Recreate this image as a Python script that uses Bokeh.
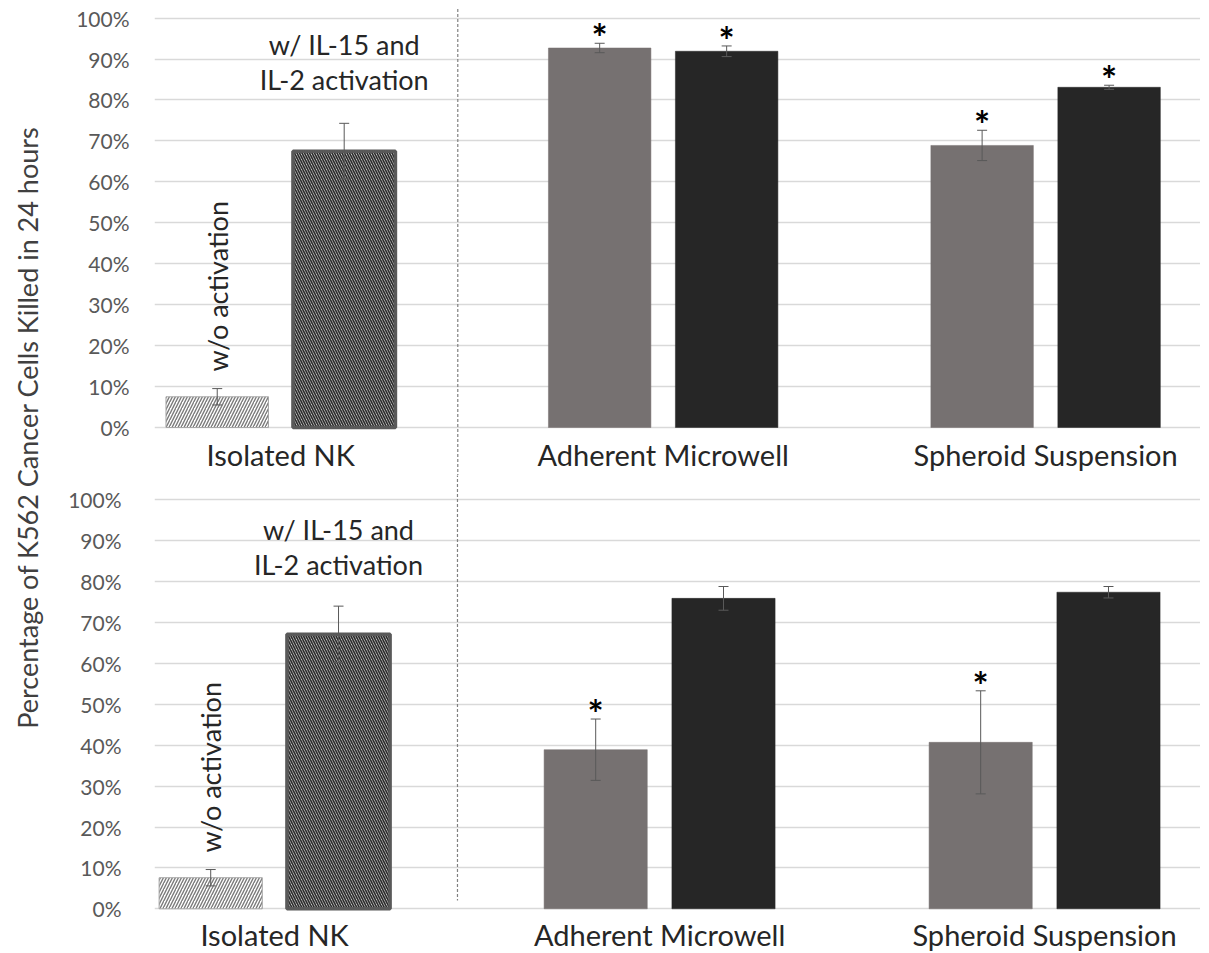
import numpy as np
from bokeh.plotting import figure
from bokeh.layouts import row, column
from bokeh.models import (ColumnDataSource, Whisker, TeeHead, FixedTicker,
                          Range1d, PrintfTickFormatter, CDSView, IndexFilter)
from bokeh.core.properties import value
from bokeh.embed import file_html
from bokeh.resources import INLINE

# ---------------- data ----------------
categories = ["Isolated NK", "Adherent Microwell", "Spheroid Suspension"]
y_ticks = [0, 10, 20, 30, 40, 50, 60, 70, 80, 90, 100]

# top panel (percent)
top_first = [7.5, 92.7, 68.9]
top_first_err = [2.0, 1.15, 3.7]
top_first_sig = [False, True, True]
top_second = [67.5, 91.9, 83.1]
top_second_err = [6.8, 1.3, 0.5]
top_second_sig = [False, True, True]

# bottom panel (percent)
bottom_first = [7.6, 38.9, 40.7]
bottom_first_err = [2.0, 7.5, 12.6]
bottom_first_sig = [False, True, True]
bottom_second = [67.1, 75.9, 77.4]
bottom_second_err = [6.9, 2.9, 1.4]
bottom_second_sig = [False, False, False]

annot_activated = "w/ IL-15 and\nIL-2 activation"
annot_plain = "w/o activation"
y_title = "Percentage of K562 Cancer Cells Killed in 24 hours"

# ---------------- style ----------------
FONT = "Lato"
GRAY = "#767171"
BLACK = "#262626"
OFFSET = 0.166
BAR_W = 0.268
TITLE_W = 56
FIG_W = 1200 - TITLE_W
BORDER_LEFT = 154 - TITLE_W


def build_panel(first, first_err, first_sig, second, second_err, second_sig,
                height, zero_px, px_per_pct, x_start, divider_x, div_top, div_bottom,
                annot_y, wo_y, cat_y, tick_standoff):
    y0 = -(height - zero_px) / px_per_pct
    y1 = zero_px / px_per_pct
    p = figure(width=FIG_W, height=height, output_backend="svg", toolbar_location=None,
               x_range=Range1d(x_start, 2.405), y_range=Range1d(y0, y1),
               min_border_top=0, min_border_bottom=0,
               min_border_left=BORDER_LEFT, min_border_right=0)
    p.outline_line_color = None

    idx = np.arange(len(categories))
    xf = idx - OFFSET
    xs = idx + OFFSET
    f = np.array(first, float)
    fe = np.array(first_err, float)
    s = np.array(second, float)
    se = np.array(second_err, float)

    src_f = ColumnDataSource(dict(x=xf, top=f, upper=f + fe, lower=f - fe))
    src_s = ColumnDataSource(dict(x=xs, top=s, upper=s + se, lower=s - se))

    hatched = CDSView(filter=IndexFilter([0]))
    solid = CDSView(filter=IndexFilter([1, 2]))

    # solid bars
    p.vbar(x="x", top="top", width=BAR_W, source=src_f, view=solid,
           fill_color=GRAY, line_color=GRAY, line_width=0.5)
    p.vbar(x="x", top="top", width=BAR_W, source=src_s, view=solid,
           fill_color=BLACK, line_color=BLACK, line_width=0.5)
    # hatched bars
    p.vbar(x="x", top="top", width=BAR_W, source=src_f, view=hatched,
           fill_color="white", line_color="#a6a6a6", line_width=1,
           hatch_pattern="right_diagonal_line", hatch_color="#7a7a7a",
           hatch_weight=1.4, hatch_scale=6)
    p.vbar(x="x", top="top", width=BAR_W, source=src_s, view=hatched,
           fill_color="#e6e6e6", line_color="#595959", line_width=3.5,
           hatch_pattern="left_diagonal_line", hatch_color="#2e2e2e",
           hatch_weight=1.7, hatch_scale=5)

    for src in (src_f, src_s):
        w = Whisker(source=src, base="x", upper="upper", lower="lower",
                    line_color="#595959", line_width=1, level="annotation",
                    upper_head=TeeHead(size=10, line_color="#595959", line_width=1),
                    lower_head=TeeHead(size=10, line_color="#595959", line_width=1))
        p.add_layout(w)

    # significance asterisks
    ax, ay = [], []
    for xv, up, sig in list(zip(xf, f + fe, first_sig)) + list(zip(xs, s + se, second_sig)):
        if sig:
            ax.append(xv)
            ay.append(up)
    p.text(x=ax, y=ay, text=["*"] * len(ax), text_font=value(FONT),
           text_font_style="bold", text_font_size="38px", text_color="black",
           text_align="center", text_baseline="middle", y_offset=-6)

    # annotations
    p.text(x=[xs[0]], y=[annot_y], text=[annot_activated], text_font=value(FONT),
           text_font_size="27px", text_color="#262626", text_align="center",
           text_baseline="middle", text_line_height=1.06)
    p.text(x=[xf[0]], y=[wo_y], text=[annot_plain], text_font=value(FONT),
           text_font_size="27px", text_color="#262626", text_align="center",
           text_baseline="middle", angle=np.pi / 2)

    # category labels (under the 0% line)
    p.text(x=idx, y=[cat_y] * len(idx), text=categories, text_font=value(FONT),
           text_font_size="29px", text_color="#262626", text_align="center",
           text_baseline="middle")

    # dashed divider
    p.segment(x0=[divider_x], y0=[div_top], x1=[divider_x], y1=[div_bottom],
              line_color="#808080", line_width=1.2, line_dash="3 2")

    # axes
    p.xaxis.visible = False
    p.yaxis.ticker = FixedTicker(ticks=y_ticks)
    p.yaxis.formatter = PrintfTickFormatter(format="%d%%")
    p.yaxis.axis_line_color = None
    p.yaxis.major_tick_line_color = None
    p.yaxis.major_tick_out = 0
    p.yaxis.major_tick_in = 0
    p.yaxis.minor_tick_line_color = None
    p.yaxis.major_label_text_font = FONT
    p.yaxis.major_label_text_font_size = "21px"
    p.yaxis.major_label_text_color = "#595959"
    p.yaxis.major_label_standoff = tick_standoff

    p.xgrid.visible = False
    p.ygrid.ticker = FixedTicker(ticks=y_ticks)
    p.ygrid.grid_line_color = "#d9d9d9"
    p.ygrid.grid_line_width = 1.5
    return p


TOP_H = 475
BOT_H = 953 - TOP_H

p_top = build_panel(top_first, top_first_err, top_first_sig,
                    top_second, top_second_err, top_second_sig,
                    height=TOP_H, zero_px=427, px_per_pct=4.094, x_start=-0.33,
                    divider_x=0.463, div_top=102.2, div_bottom=-14,
                    annot_y=89.3, wo_y=34.5, cat_y=-6.5, tick_standoff=25)
p_bot = build_panel(bottom_first, bottom_first_err, bottom_first_sig,
                    bottom_second, bottom_second_err, bottom_second_sig,
                    height=BOT_H, zero_px=908.3 - TOP_H, px_per_pct=4.09, x_start=-0.312,
                    divider_x=0.475, div_top=110, div_bottom=2,
                    annot_y=88.4, wo_y=34.6, cat_y=-6.2, tick_standoff=33)

t = figure(width=TITLE_W, height=953, x_range=Range1d(0, TITLE_W), y_range=Range1d(0, 953),
           output_backend="svg", toolbar_location=None, min_border=0,
           x_axis_type=None, y_axis_type=None)
t.outline_line_color = None
t.text(x=[27], y=[953 - 427], text=[y_title], angle=np.pi / 2, text_font=value(FONT),
       text_font_size="27px", text_color="#404040", text_align="center",
       text_baseline="middle")

layout = row(t, column(p_top, p_bot, spacing=0), spacing=0)
open("out.html", "w").write(file_html(layout, INLINE))
